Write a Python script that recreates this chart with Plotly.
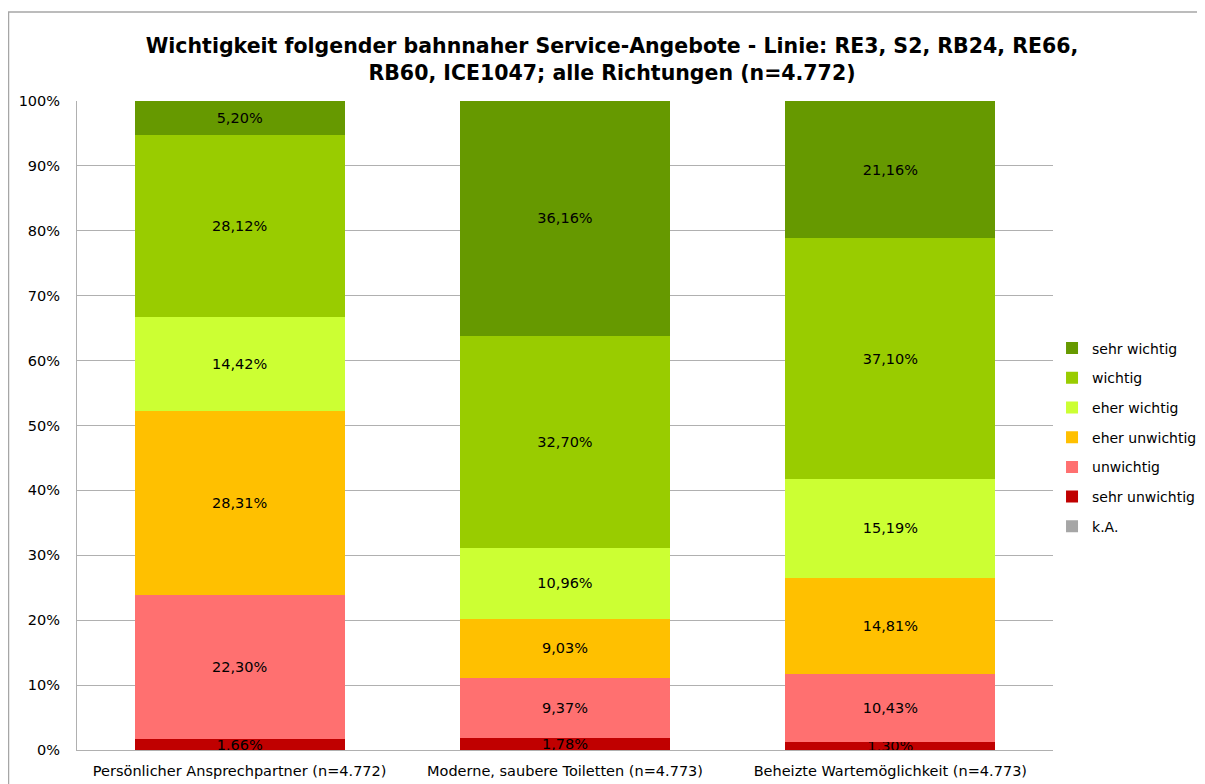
import plotly.graph_objects as go

categories = ["Persönlicher Ansprechpartner (n=4.772)",
              "Moderne, saubere Toiletten (n=4.773)",
              "Beheizte Wartemöglichkeit (n=4.773)"]

series_names = ["k.A.", "sehr unwichtig", "unwichtig", "eher unwichtig",
                "eher wichtig", "wichtig", "sehr wichtig"]

ka = [0.0, 0.0, 0.0]
sehr_unwichtig = [1.66, 1.78, 1.30]
unwichtig = [22.30, 9.37, 10.43]
eher_unwichtig = [28.31, 9.03, 14.81]
eher_wichtig = [14.42, 10.96, 15.19]
wichtig = [28.12, 32.70, 37.10]
sehr_wichtig = [5.20, 36.16, 21.16]

values = [ka, sehr_unwichtig, unwichtig, eher_unwichtig, eher_wichtig, wichtig, sehr_wichtig]
colors = ["#A6A6A6", "#C00000", "#FF7070", "#FFC000", "#CCFF33", "#99CC00", "#669900"]

FONT = "DejaVu Sans"

fig = go.Figure()
n = len(series_names)
for i, (name, vals, col) in enumerate(zip(series_names, values, colors)):
    show_text = name != "k.A."
    fig.add_trace(go.Bar(
        name=name, x=categories, y=vals, marker_color=col,
        marker_line_width=0, legendgroup=name, legendrank=n - i,
        texttemplate="%{y:.2f}%" if show_text else None,
        textposition="inside" if show_text else "none",
        insidetextanchor="middle",
        constraintext="none",
        textfont=dict(family=FONT, size=14.5, color="black"),
        hoverinfo="skip",
    ))

# page has 8px body margin; plot area in page coords: x 77..1053, y 101..750
fig.update_layout(
    barmode="stack",
    bargap=0.3545,
    separators=",.",
    width=1197, height=776,
    paper_bgcolor="white", plot_bgcolor="white",
    margin=dict(l=69, r=152, t=93, b=34, autoexpand=False),
    font=dict(family=FONT, size=14.5, color="black"),
    title=dict(
        text="<b>Wichtigkeit folgender bahnnaher Service-Angebote - Linie: RE3, S2, RB24, RE66,<br>RB60, ICE1047; alle Richtungen (n=4.772)</b>",
        x=0.5046, xanchor="center", y=0.9415, yanchor="middle",
        font=dict(family=FONT, size=20.5, color="black"),
    ),
    legend=dict(
        traceorder="grouped", x=0.999, xanchor="left", y=0.4815, yanchor="middle",
        font=dict(family=FONT, size=14), itemwidth=30, tracegroupgap=8.5,
        bgcolor="rgba(0,0,0,0)",
    ),
)
fig.update_yaxes(range=[0, 100], dtick=10, ticksuffix="%", showgrid=True,
                 gridcolor="#B0B0B0", gridwidth=1, zeroline=False,
                 showline=True, linecolor="#B0B0B0", linewidth=1,
                 ticks="outside", ticklen=13, tickcolor="rgba(0,0,0,0)",
                 tickfont=dict(family=FONT, size=14.5))
fig.update_xaxes(showline=True, linecolor="#B0B0B0", linewidth=1,
                 ticks="outside", ticklen=8, tickcolor="rgba(0,0,0,0)",
                 tickfont=dict(family=FONT, size=14.5))
fig.add_shape(type="rect", xref="paper", yref="paper",
              x0=-68.5/976, x1=1.3, y0=-0.3, y1=(742-4)/649,
              line=dict(color="#A6A6A6", width=1.5), fillcolor="rgba(0,0,0,0)", layer="below")

fig.write_html("out.html")
